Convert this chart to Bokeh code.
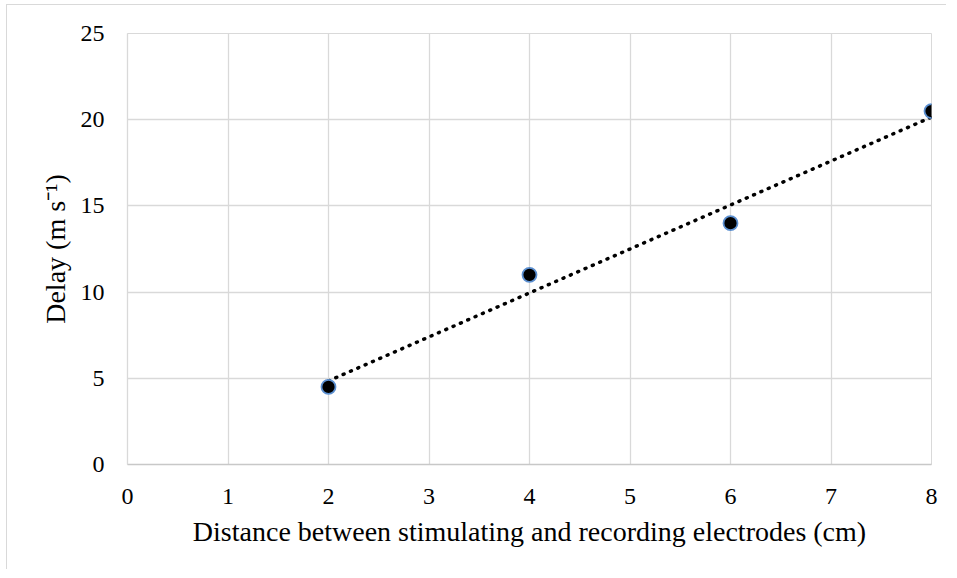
import numpy as np
from bokeh.plotting import figure
from bokeh.models import FixedTicker, ColumnDataSource
from bokeh.embed import file_html
from bokeh.resources import INLINE

# Data
distance_cm = [2, 4, 6, 8]
delay_ms = [4.5, 11, 14, 20.5]
x_ticks = [0, 1, 2, 3, 4, 5, 6, 7, 8]
y_ticks = [0, 5, 10, 15, 20, 25]
x_title = "Distance between stimulating and recording electrodes (cm)"
y_title = "Delay (m s\u207b\u00b9)"

FONT = "Liberation Serif"

p = figure(width=940, height=565, output_backend="svg", toolbar_location=None,
           x_range=(0, 8), y_range=(0, 25),
           min_border_left=120, min_border_right=16, min_border_top=28, min_border_bottom=106)
p.styles = {"border-top": "1px solid #d9d9d9", "border-left": "1px solid #d9d9d9",
            "margin-left": "6px", "margin-top": "4px"}

p.outline_line_color = "#d9d9d9"
p.background_fill_color = "white"
p.border_fill_color = "white"

for g in (p.xgrid, p.ygrid):
    g.grid_line_color = "#d9d9d9"
    g.grid_line_width = 1.3
p.xgrid.ticker = FixedTicker(ticks=x_ticks)
p.ygrid.ticker = FixedTicker(ticks=y_ticks)

for ax in (p.xaxis, p.yaxis):
    ax.major_tick_line_color = None
    ax.minor_tick_line_color = None
    ax.major_label_text_font = FONT
    ax.major_label_text_font_size = "24px"
    ax.major_label_text_color = "black"
    ax.axis_label_text_font = FONT
    ax.axis_label_text_font_size = "28px"
    ax.axis_label_text_font_style = "normal"
    ax.axis_label_text_color = "black"

p.xaxis.ticker = FixedTicker(ticks=x_ticks)
p.yaxis.ticker = FixedTicker(ticks=y_ticks)
p.xaxis.axis_line_color = "#c8c8c8"
p.xaxis.axis_line_width = 1.5
p.yaxis.axis_line_color = "#d9d9d9"
p.yaxis.axis_line_width = 1.3
p.xaxis.major_label_standoff = 18
p.yaxis.major_label_standoff = 17
p.xaxis.axis_label = x_title
p.yaxis.axis_label = y_title
p.xaxis.axis_label_standoff = 9
p.yaxis.axis_label_standoff = 7

# Linear trendline from the data
slope, intercept = np.polyfit(distance_cm, delay_ms, 1)
tx = [min(distance_cm), max(distance_cm)]
ty = [slope * v + intercept for v in tx]
p.line(tx, ty, line_color="black", line_width=3.5, line_dash="1 7", line_cap="round")

src = ColumnDataSource(dict(x=distance_cm, y=delay_ms))
p.scatter("x", "y", source=src, size=14, fill_color="black", line_color="#5b8fd0", line_width=1.8)

open("out.html", "w").write(file_html(p, INLINE))
